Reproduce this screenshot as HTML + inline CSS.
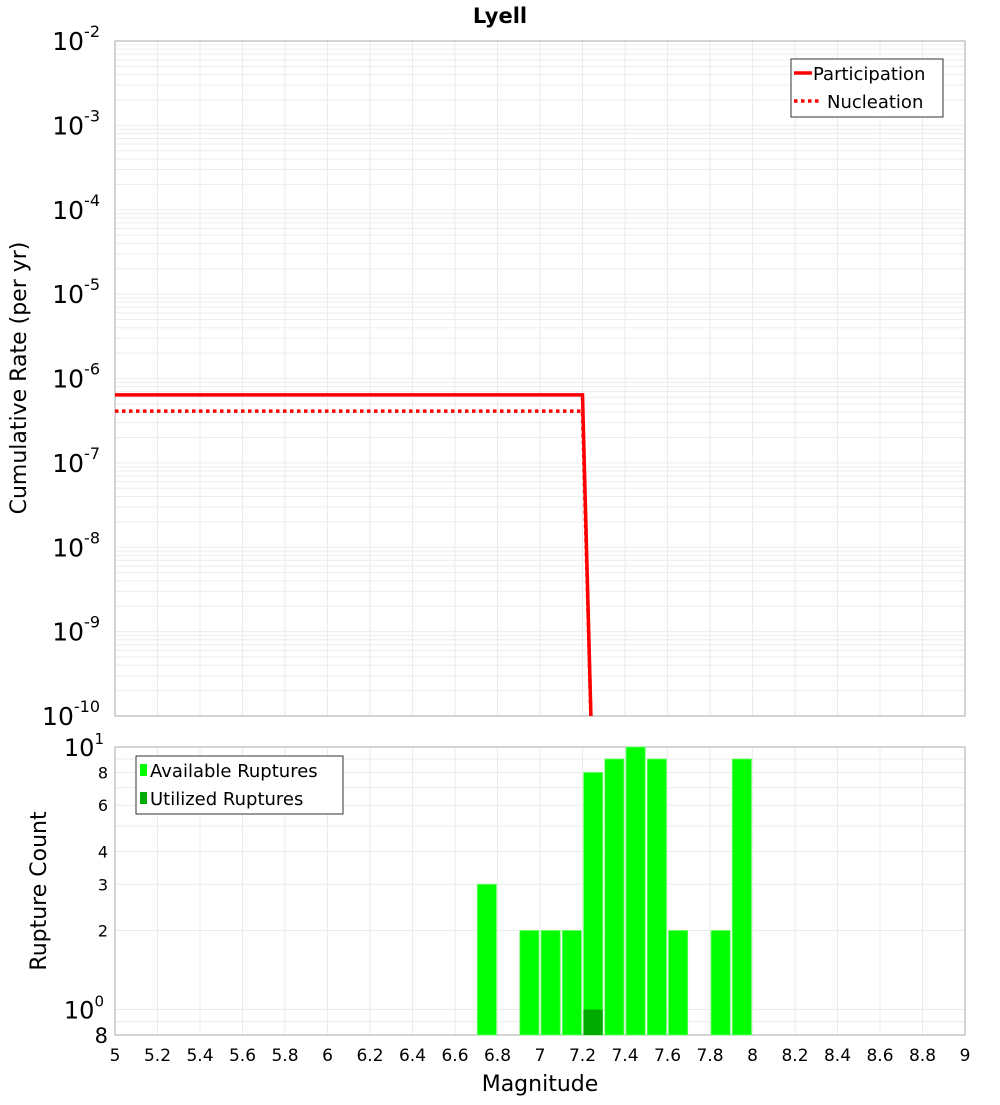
<!DOCTYPE html>
<html><head><meta charset="utf-8"><style>
body{margin:0;background:#fff;}
svg text{font-family:"DejaVu Sans","Liberation Sans",sans-serif;}
</style></head><body>
<svg id="c" width="1000" height="1100" xmlns="http://www.w3.org/2000/svg"></svg>
<script>
const partMags=[5,7.2,7.25];
const partRates=[6.4e-7,6.4e-7,1e-11];
const nuclMags=[5,7.2,7.25];
const nuclRates=[4.1e-7,4.1e-7,1e-11];
const barMags=[6.75,6.95,7.05,7.15,7.25,7.35,7.45,7.55,7.65,7.85,7.95];
const barCounts=[3,2,2,2,8,9,10,9,2,2,9];
const usedMags=[7.25];
const usedCounts=[1];
const xTicks=[5,5.2,5.4,5.6,5.8,6,6.2,6.4,6.6,6.8,7,7.2,7.4,7.6,7.8,8,8.2,8.4,8.6,8.8,9];
const topExps=[-2,-3,-4,-5,-6,-7,-8,-9,-10];
const botTicks=[0.8,1,2,3,4,6,8,10];

const NS="http://www.w3.org/2000/svg";
const svg=document.getElementById('c');
function el(t,a,p){const e=document.createElementNS(NS,t);for(const k in a)e.setAttribute(k,a[k]);(p||svg).appendChild(e);return e;}
const L=115,R=965,T1=41,B1=716,T2=747,B2=1035;
const xs=m=>L+(m-5)/(9-5)*(R-L);
const y1=v=>T1+(-2-Math.log10(v))/8*(B1-T1);
const y2=v=>B2-(Math.log10(v)-Math.log10(0.8))/(1-Math.log10(0.8))*(B2-T2);

let t=el('text',{x:500,y:23,'text-anchor':'middle','font-size':21,'font-weight':'bold'});t.textContent='Lyell';



const g=el('g',{});


for(let d=-10;d<-2;d++)for(let k=1;k<10;k++){const y=y1(k*Math.pow(10,d));el('line',{x1:L,x2:R,y1:y,y2:y,stroke:'#ededed','stroke-width':1},g);}
for(let m=5.2;m<9;m+=0.2){const x=xs(m);el('line',{x1:x,x2:x,y1:T1,y2:B1,stroke:'#ebebeb'},g);el('line',{x1:x,x2:x,y1:T2,y2:B2,stroke:'#ebebeb'},g);}
[0.9,1,2,3,4,5,6,7,8,9].forEach(v=>{const y=y2(v);el('line',{x1:L,x2:R,y1:y,y2:y,stroke:'#ebebeb'},g);});

let f=el('rect',{x:L,y:T1,width:R-L,height:B1-T1,fill:'none',stroke:'#aaa'});


f=el('rect',{x:L,y:T2,width:R-L,height:B2-T2,fill:'none',stroke:'#aaa'});



el('clipPath',{id:'cp'});
el('rect',{x:L,y:T1,width:R-L,height:B1-T1},svg.lastChild);
function pts(ms,vs){return ms.map((m,i)=>xs(m)+','+y1(vs[i])).join(' ');}
let p=el('polyline',{points:pts(nuclMags,nuclRates),fill:'none',stroke:'#f00','stroke-width':3.5,'stroke-dasharray':'3.5,3.5','clip-path':'url(#cp)'});


p=el('polyline',{points:pts(partMags,partRates),fill:'none',stroke:'#f00','stroke-width':3.5,'clip-path':'url(#cp)'});



const bw=0.09*(R-L)/4;
barMags.forEach((m,i)=>{const r=el('rect',{x:xs(m)-bw/2,y:y2(barCounts[i]),width:bw,height:B2-y2(barCounts[i]),fill:'#00ff00',stroke:'#6f6','stroke-width':0.8});

});
usedMags.forEach((m,i)=>{const r=el('rect',{x:xs(m)-bw/2,y:y2(usedCounts[i]),width:bw,height:B2-y2(usedCounts[i]),fill:'#00aa00'});

});

xTicks.forEach(m=>{const tx=el('text',{x:xs(m),y:1061,'text-anchor':'middle','font-size':17});tx.textContent=String(m);

});
t=el('text',{x:540,y:1091,'text-anchor':'middle','font-size':22});t.textContent='Magnitude';



topExps.forEach(e=>{const y=y1(Math.pow(10,e));const tx=el('text',{x:e===-10?100:100,y:y+9,'text-anchor':'end','font-size':25});
tx.textContent='10';el('tspan',{dy:-13,'font-size':16},tx).textContent=String(e);

});
t=el('text',{x:26,y:378,'text-anchor':'middle','font-size':22,transform:'rotate(-90 26 378)'});t.textContent='Cumulative Rate (per yr)';



botTicks.forEach(v=>{const y=y2(v);const tx=el('text',{x:108,'text-anchor':'end'});
if(v===1||v===10){tx.setAttribute('y',y+9);tx.setAttribute('font-size',24);tx.setAttribute('x',104);tx.textContent='10';el('tspan',{dy:-12,'font-size':15},tx).textContent=v===1?'0':'1';}
else if(v===0.8){tx.setAttribute('y',y+8);tx.setAttribute('font-size',21);tx.textContent='8';}
else{tx.setAttribute('y',y+6);tx.setAttribute('font-size',16);tx.textContent=String(v);}

});
t=el('text',{x:46,y:891,'text-anchor':'middle','font-size':22,transform:'rotate(-90 46 891)'});t.textContent='Rupture Count';



const lg=el('g',{});


el('rect',{x:791,y:59,width:152,height:58,fill:'#fff',stroke:'#333'},lg);
el('line',{x1:794,x2:812,y1:73,y2:73,stroke:'#f00','stroke-width':3.5},lg);
el('text',{x:813,y:80,'font-size':18},lg).textContent='Participation';
el('line',{x1:794,x2:822,y1:101,y2:101,stroke:'#f00','stroke-width':3.5,'stroke-dasharray':'3.5,3.5'},lg);
el('text',{x:827,y:108,'font-size':18},lg).textContent='Nucleation';

const lb=el('g',{});


el('rect',{x:136,y:756,width:207,height:58,fill:'#fff',stroke:'#333'},lb);
el('rect',{x:140,y:764,width:7,height:12,fill:'#00ff00'},lb);
el('text',{x:150,y:777,'font-size':18},lb).textContent='Available Ruptures';
el('rect',{x:140,y:792,width:7,height:12,fill:'#00aa00'},lb);
el('text',{x:150,y:805,'font-size':18},lb).textContent='Utilized Ruptures';
</script>
</body></html>
